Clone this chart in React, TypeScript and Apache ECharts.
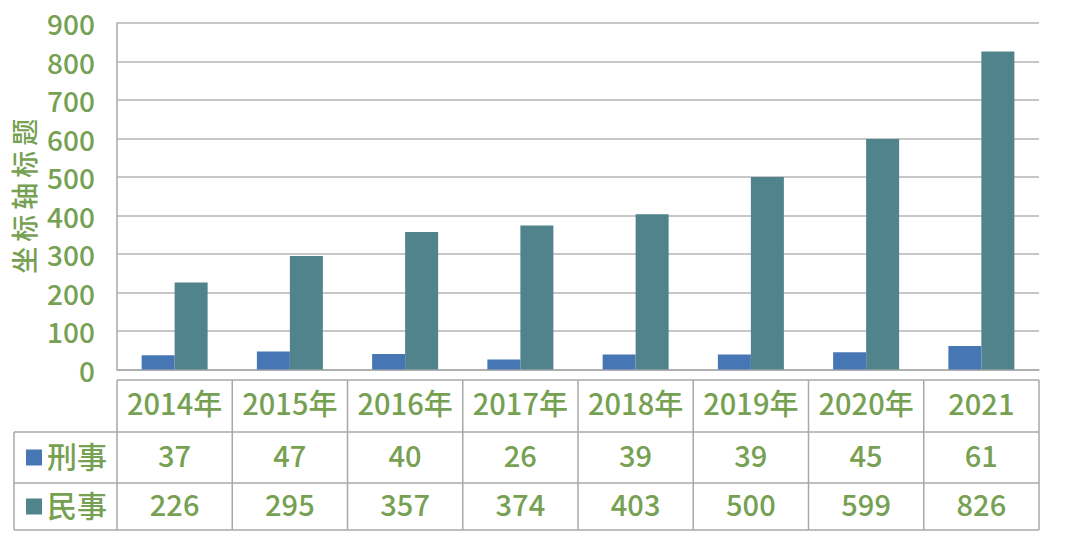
import React, { useEffect, useRef } from "react";
import * as echarts from "echarts";

const categories = ["2014年", "2015年", "2016年", "2017年", "2018年", "2019年", "2020年", "2021"];
const seriesNames = ["刑事", "民事"];
const criminal = [37, 47, 40, 26, 39, 39, 45, 61];
const civil = [226, 295, 357, 374, 403, 500, 599, 826];
const yAxisTitle = "坐标轴标题";

const BLUE = "#4677b4";
const TEAL = "#50838c";
const GREEN = "#76a052";
const LINE = "#a8a8a8";
const CJK = "'Noto Sans CJK SC', 'Noto Sans', sans-serif";

export default function App() {
  const ref = useRef<HTMLDivElement>(null);
  useEffect(() => {
    const chart = echarts.init(ref.current!, null, { renderer: "svg" });
    chart.setOption({
      animation: false,
      backgroundColor: "#ffffff",
      grid: { left: 117, right: 41, top: 23, bottom: 166.5, containLabel: false },
      xAxis: {
        type: "category",
        data: categories,
        axisLabel: { show: false },
        axisTick: { show: false },
        axisLine: { show: true, lineStyle: { color: LINE, width: 1.5 } },
      },
      yAxis: {
        type: "value",
        min: 0,
        max: 900,
        interval: 100,
        axisLine: { show: true, lineStyle: { color: LINE, width: 1.5 } },
        axisTick: { show: false },
        splitLine: { lineStyle: { color: "#b4b4b4", width: 1.5 } },
        axisLabel: {
          margin: 22,
          color: GREEN,
          fontSize: 28,
          fontWeight: 500,
          fontFamily: CJK,
        },
      },
      series: [
        { name: seriesNames[0], type: "bar", data: criminal, barWidth: 33, barGap: "0%", itemStyle: { color: BLUE } },
        { name: seriesNames[1], type: "bar", data: civil, barWidth: 33, barGap: "0%", itemStyle: { color: TEAL } },
      ],
    });

    const n = categories.length;
    const centers = categories.map((_, i) => chart.convertToPixel({ xAxisIndex: 0 }, i) as number);
    const step = n > 1 ? centers[1] - centers[0] : 115;
    const left = centers[0] - step / 2;
    const right = centers[n - 1] + step / 2;
    const rowTops = [380, 432, 483, 530];
    const legendLeft = 14;
    const lineStyle = { stroke: LINE, lineWidth: 1.5 };
    const els: any[] = [];
    const hl = (x1: number, x2: number, y: number) =>
      els.push({ type: "line", shape: { x1, y1: y, x2, y2: y }, style: lineStyle, silent: true });
    const vl = (x: number, y1: number, y2: number) =>
      els.push({ type: "line", shape: { x1: x, y1, x2: x, y2 }, style: lineStyle, silent: true });
    hl(left, right, rowTops[0]);
    hl(legendLeft, right, rowTops[1]);
    hl(legendLeft, right, rowTops[2]);
    hl(legendLeft, right, rowTops[3]);
    vl(legendLeft, rowTops[1], rowTops[3]);
    for (let k = 0; k <= n; k++) vl(left + k * step, rowTops[0], rowTops[3]);

    const txt = (s: string, x: number, y: number) =>
      els.push({
        type: "text",
        x,
        y,
        silent: true,
        style: {
          text: s,
          fill: GREEN,
          font: `500 29px ${CJK}`,
          align: "center",
          verticalAlign: "middle",
        },
      });
    const rowCenter = (r: number) => (rowTops[r] + rowTops[r + 1]) / 2;
    categories.forEach((c, i) => {
      txt(c, centers[i], rowCenter(0) - 4);
      txt(String(criminal[i]), centers[i], rowCenter(1) - 4);
      txt(String(civil[i]), centers[i], rowCenter(2) - 4);
    });
    [BLUE, TEAL].forEach((col, r) => {
      const cy = rowCenter(r + 1);
      els.push({ type: "rect", shape: { x: 26, y: cy - 8, width: 16, height: 16 }, style: { fill: col }, silent: true });
      els.push({
        type: "text",
        x: 47,
        y: cy - 3,
        silent: true,
        style: {
          text: seriesNames[r],
          fill: GREEN,
          font: `500 30px ${CJK}`,
          align: "left",
          verticalAlign: "middle",
        },
      });
    });
    // rotated axis title, characters spread along the axis
    const titleChars = Array.from(yAxisTitle);
    const plotMid = (23 + 369.5) / 2;
    const charStep = 32;
    titleChars.forEach((ch, i) => {
      els.push({
        type: "text",
        x: 23,
        y: plotMid + ((titleChars.length - 1) / 2 - i) * charStep,
        rotation: Math.PI / 2,
        silent: true,
        style: {
          text: ch,
          fill: GREEN,
          font: `500 27px ${CJK}`,
          align: "center",
          verticalAlign: "middle",
        },
      });
    });
    chart.setOption({ graphic: { elements: els } });
    return () => chart.dispose();
  }, []);
  return <div ref={ref} style={{ position: "fixed", left: 0, top: 0, width: 1080, height: 536 }} />;
}
